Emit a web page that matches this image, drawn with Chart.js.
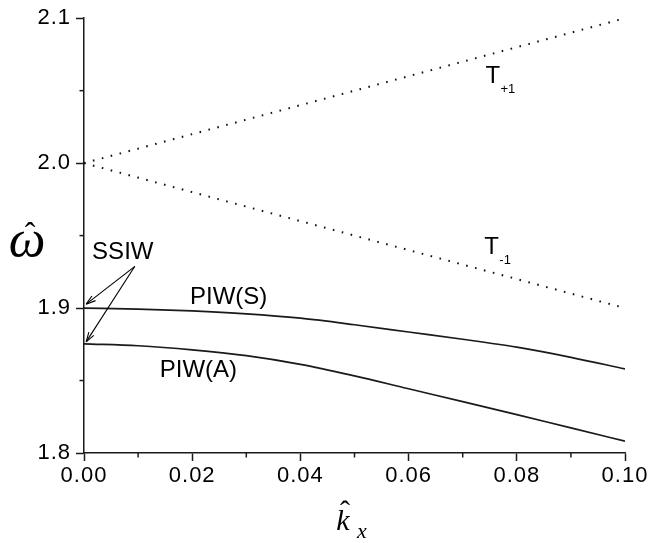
<!DOCTYPE html>
<html>
<head>
<meta charset="utf-8">
<script src="https://cdn.jsdelivr.net/npm/chart.js@4.4.1/dist/chart.umd.min.js"></script>
<style>
html,body{margin:0;padding:0;background:#fff;}
#wrap{width:650px;height:543px;position:relative;}
</style>
</head>
<body>
<div id="wrap"><canvas id="c" width="650" height="543"></canvas></div>
<script>
// ---- data ----
const kx = [0, 0.01, 0.02, 0.03, 0.04, 0.05, 0.06, 0.07, 0.08, 0.09, 0.10];
const piwS = [1.9000, 1.8993, 1.8980, 1.8960, 1.8930, 1.8885, 1.8835, 1.8785, 1.8730, 1.8660, 1.8580];
const piwA = [1.8753, 1.8740, 1.8712, 1.8672, 1.8612, 1.8532, 1.8443, 1.8355, 1.8265, 1.8173, 1.8082];
const kxT = [0, 0.1];
const tPlus1 = [2.0, 2.1];
const tMinus1 = [2.0, 1.9];
const xTicks = [0, 0.02, 0.04, 0.06, 0.08, 0.10];
const yTicks = [1.8, 1.9, 2.0, 2.1];
const xMinor = [0.01, 0.03, 0.05, 0.07, 0.09];
const yMinor = [1.85, 1.95, 2.05];

const toPts = (xs, ys) => xs.map((x, i) => ({x: x, y: ys[i]}));
const INK = '#1a1a1a';
const SANS = '"Liberation Sans", Arial, sans-serif';
const SERIF = '"Liberation Serif", "Times New Roman", serif';

const annot = {
  id: 'annot',
  beforeDraw(chart) { chart.ctx.letterSpacing = '1px'; },
  afterDraw(chart) {
    const ctx = chart.ctx, xs = chart.scales.x, ys = chart.scales.y;
    ctx.letterSpacing = '0px';
    const X = v => xs.getPixelForValue(v), Y = v => ys.getPixelForValue(v);
    ctx.save();
    // minor ticks
    ctx.strokeStyle = INK; ctx.lineWidth = 1.5;
    const b = chart.chartArea.bottom, l = chart.chartArea.left;
    xMinor.forEach(v => { ctx.beginPath(); ctx.moveTo(X(v), b); ctx.lineTo(X(v), b + 4.5); ctx.stroke(); });
    yMinor.forEach(v => { ctx.beginPath(); ctx.moveTo(l, Y(v)); ctx.lineTo(l - 4.5, Y(v)); ctx.stroke(); });

    ctx.fillStyle = '#000';
    ctx.textBaseline = 'alphabetic';
    ctx.textAlign = 'left';
    ctx.font = '24px ' + SANS;
    ctx.fillText('SSIW', X(0.0015), Y(1.9336));
    ctx.fillText('PIW(S)', X(0.0196), Y(1.9025));
    ctx.fillText('PIW(A)', X(0.0140), Y(1.8525));
    ctx.fillText('T', X(0.0742), Y(2.0555));
    ctx.fillText('T', X(0.0740), Y(1.937));
    ctx.font = '13px ' + SANS;
    ctx.fillText('+1', X(0.0742) + 15, Y(2.0555) + 10);
    ctx.fillText('-1', X(0.0740) + 15, Y(1.937) + 10);

    // arrows
    const arrow = (x0, y0, x1, y1) => {
      ctx.strokeStyle = '#000'; ctx.lineWidth = 1.1;
      ctx.beginPath(); ctx.moveTo(x0, y0); ctx.lineTo(x1, y1); ctx.stroke();
      const a = Math.atan2(y1 - y0, x1 - x0), h = 10, w = 0.3;
      ctx.beginPath();
      ctx.moveTo(x1, y1);
      ctx.lineTo(x1 - h * Math.cos(a - w), y1 - h * Math.sin(a - w));
      ctx.moveTo(x1, y1);
      ctx.lineTo(x1 - h * Math.cos(a + w), y1 - h * Math.sin(a + w));
      ctx.stroke();
    };
    arrow(X(0.0094), Y(1.9288), X(0.0004), Y(1.9027));
    arrow(X(0.0094), Y(1.9288), X(0.0004), Y(1.8767));

    // axis titles
    ctx.textAlign = 'center';
    ctx.font = 'italic 52px ' + SERIF;
    ctx.fillText('\u03c9', 27, 256);
    ctx.font = '32px ' + SERIF;
    ctx.fillText('\u02c6', 30, 244);
    ctx.font = 'italic 30px ' + SERIF;
    ctx.fillText('k', 343, 530);
    ctx.font = '30px ' + SERIF;
    ctx.fillText('\u02c6', 345, 521);
    ctx.font = 'italic 22px ' + SERIF;
    ctx.fillText('x', 362, 538);
    ctx.restore();
  }
};

new Chart(document.getElementById('c'), {
  type: 'scatter',
  data: {
    datasets: [
      {label: 'PIW(S)', data: toPts(kx, piwS), showLine: true, borderColor: INK, borderWidth: 1.7, pointRadius: 0, cubicInterpolationMode: 'monotone'},
      {label: 'PIW(A)', data: toPts(kx, piwA), showLine: true, borderColor: INK, borderWidth: 1.7, pointRadius: 0, cubicInterpolationMode: 'monotone'},
      {label: 'T+1', data: toPts(kxT, tPlus1), showLine: true, borderColor: '#111', borderWidth: 2, borderDash: [1.6, 7.6], pointRadius: 0},
      {label: 'T-1', data: toPts(kxT, tMinus1), showLine: true, borderColor: '#111', borderWidth: 2, borderDash: [1.6, 7.6], pointRadius: 0}
    ]
  },
  options: {
    responsive: false,
    animation: false,
    layout: {padding: {top: 15, right: 25, left: 0, bottom: 0}},
    plugins: {legend: {display: false}, tooltip: {enabled: false}},
    scales: {
      x: {
        type: 'linear', min: 0, max: 0.1,
        afterBuildTicks: s => { s.ticks = xTicks.map(v => ({value: v})); },
        afterFit: s => { s.height = 90; },
        ticks: {callback: v => v.toFixed(2), color: '#000', font: {family: SANS, size: 22}, padding: 2, maxRotation: 0, autoSkip: false},
        grid: {drawOnChartArea: false, tickLength: 8, tickWidth: 1.5, tickColor: INK},
        border: {color: INK, width: 1.5}
      },
      y: {
        type: 'linear', min: 1.8, max: 2.1,
        afterBuildTicks: s => { s.ticks = yTicks.map(v => ({value: v})); },
        afterFit: s => { s.width = 84; },
        ticks: {callback: v => v.toFixed(1), color: '#000', font: {family: SANS, size: 22}, padding: 5, autoSkip: false},
        grid: {drawOnChartArea: false, tickLength: 8, tickWidth: 1.5, tickColor: INK},
        border: {color: INK, width: 1.5}
      }
    }
  },
  plugins: [annot]
});
</script>
</body>
</html>
